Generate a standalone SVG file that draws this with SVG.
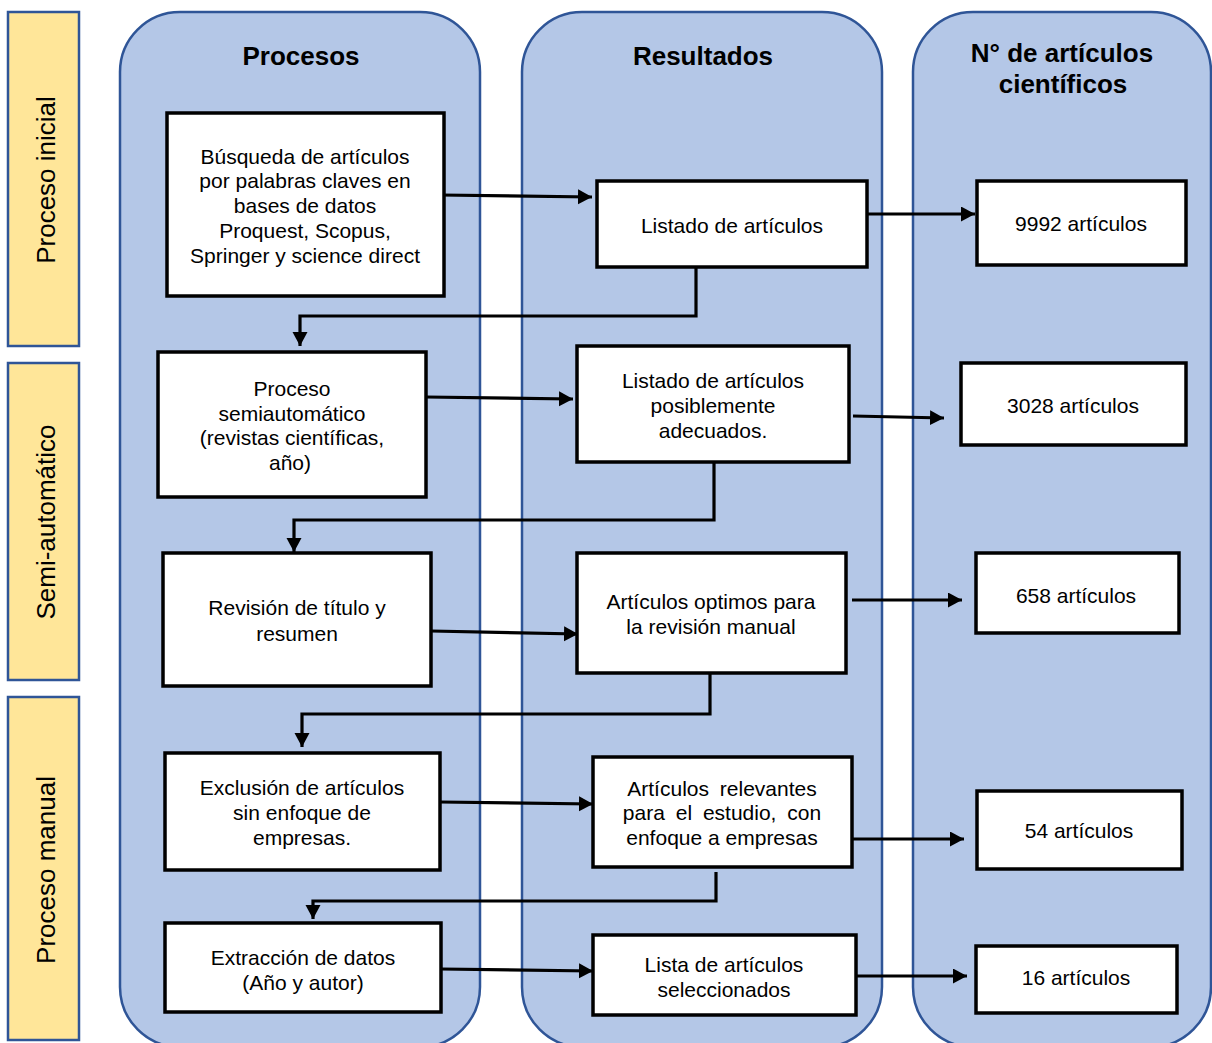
<svg xmlns="http://www.w3.org/2000/svg" width="1212" height="1043" viewBox="0 0 1212 1043">
<style>
.side{fill:#FFE699;stroke:#2F5597;stroke-width:2.5}
.col{fill:#B4C7E7;stroke:#2F5597;stroke-width:2.5}
.box{fill:#FFFFFF;stroke:#000000;stroke-width:3.5}
.t{font-family:"Liberation Sans",Arial,sans-serif;font-size:21px;fill:#000;text-anchor:middle}
.st{font-family:"Liberation Sans",Arial,sans-serif;font-size:26px;fill:#000;text-anchor:middle}
.h{font-family:"Liberation Sans",Arial,sans-serif;font-size:26px;font-weight:bold;fill:#000;text-anchor:middle}
.c{fill:none;stroke:#000;stroke-width:3.2;marker-end:url(#ah)}
</style>
<defs>
<marker id="ah" markerUnits="userSpaceOnUse" markerWidth="16" markerHeight="16" refX="14" refY="7.5" orient="auto">
<path d="M0,0 L14,7.5 L0,15 Z" fill="#000"/>
</marker>
</defs>
<g id="sides">
<g id="side-inicial"><rect class="side" x="8" y="12" width="71" height="334"/><text class="st" transform="translate(55,180) rotate(-90)">Proceso inicial</text></g>
<g id="side-semi"><rect class="side" x="8" y="363" width="71" height="317"/><text class="st" transform="translate(55,522) rotate(-90)">Semi-automático</text></g>
<g id="side-manual"><rect class="side" x="8" y="697" width="71" height="343"/><text class="st" transform="translate(55,870) rotate(-90)">Proceso manual</text></g>
</g>
<g id="columns">
<g id="col-procesos"><rect class="col" x="120" y="12" width="360" height="1035" rx="60" ry="60"/><text class="h" x="301" y="65">Procesos</text></g>
<g id="col-resultados"><rect class="col" x="522" y="12" width="360" height="1035" rx="60" ry="60"/><text class="h" x="703" y="65">Resultados</text></g>
<g id="col-numero"><rect class="col" x="913" y="12" width="298" height="1035" rx="60" ry="60"/><text class="h" x="1062" y="62">N° de artículos</text><text class="h" x="1063" y="93">científicos</text></g>
</g>
<g id="connectors">
<path class="c" d="M440,195 L592,197"/>
<path class="c" d="M867,214 L975,214"/>
<path class="c" d="M696,267 L696,316 L300,316 L300,346"/>
<path class="c" d="M426,397 L573,399"/>
<path class="c" d="M853,416 L944,418"/>
<path class="c" d="M714,462 L714,520 L294,520 L294,552"/>
<path class="c" d="M431,631 L578,634"/>
<path class="c" d="M852,600 L962,600"/>
<path class="c" d="M710,673 L710,714 L302,714 L302,747"/>
<path class="c" d="M440,802 L593,804"/>
<path class="c" d="M852,839 L964,839"/>
<path class="c" d="M716,872 L716,901 L313,901 L313,919"/>
<path class="c" d="M441,969 L593,971"/>
<path class="c" d="M856,976 L967,976"/>
</g>
<g id="n-busqueda"><rect class="box" x="167" y="113" width="277" height="183"/>
<text class="t" x="305" y="164">Búsqueda de artículos</text>
<text class="t" x="305" y="188">por palabras claves en</text>
<text class="t" x="305" y="213">bases de datos</text>
<text class="t" x="305" y="238">Proquest, Scopus,</text>
<text class="t" x="305" y="263">Springer y science direct</text></g>
<g id="n-semi"><rect class="box" x="158" y="352" width="268" height="145"/>
<text class="t" x="292" y="396">Proceso</text>
<text class="t" x="292" y="421">semiautomático</text>
<text class="t" x="292" y="445">(revistas científicas,</text>
<text class="t" x="290" y="470">año)</text></g>
<g id="n-revision"><rect class="box" x="163" y="553" width="268" height="133"/>
<text class="t" x="297" y="615">Revisión de título y</text>
<text class="t" x="297" y="641">resumen</text></g>
<g id="n-exclusion"><rect class="box" x="165" y="753" width="275" height="117"/>
<text class="t" x="302" y="795">Exclusión de artículos</text>
<text class="t" x="302" y="820">sin enfoque de</text>
<text class="t" x="302" y="845">empresas.</text></g>
<g id="n-extraccion"><rect class="box" x="165" y="923" width="276" height="89"/>
<text class="t" x="303" y="965">Extracción de datos</text>
<text class="t" x="303" y="990">(Año y autor)</text></g>
<g id="r-listado"><rect class="box" x="597" y="181" width="270" height="86"/>
<text class="t" x="732" y="233">Listado de artículos</text></g>
<g id="r-posible"><rect class="box" x="577" y="346" width="272" height="116"/>
<text class="t" x="713" y="388">Listado de artículos</text>
<text class="t" x="713" y="413">posiblemente</text>
<text class="t" x="713" y="438">adecuados.</text></g>
<g id="r-optimos"><rect class="box" x="577" y="553" width="269" height="120"/>
<text class="t" x="711" y="609">Artículos optimos para</text>
<text class="t" x="711" y="634">la revisión manual</text></g>
<g id="r-relevantes"><rect class="box" x="593" y="757" width="259" height="110"/>
<text class="t" x="722" y="796" word-spacing="5">Artículos relevantes</text>
<text class="t" x="722" y="820" word-spacing="5">para el estudio, con</text>
<text class="t" x="722" y="845">enfoque a empresas</text></g>
<g id="r-lista"><rect class="box" x="593" y="935" width="263" height="80"/>
<text class="t" x="724" y="972">Lista de artículos</text>
<text class="t" x="724" y="997">seleccionados</text></g>
<g id="k-9992"><rect class="box" x="977" y="181" width="209" height="84"/><text class="t" x="1081" y="231">9992 artículos</text></g>
<g id="k-3028"><rect class="box" x="961" y="363" width="225" height="82"/><text class="t" x="1073" y="413">3028 artículos</text></g>
<g id="k-658"><rect class="box" x="976" y="553" width="203" height="80"/><text class="t" x="1076" y="603">658 artículos</text></g>
<g id="k-54"><rect class="box" x="977" y="791" width="205" height="78"/><text class="t" x="1079" y="838">54 artículos</text></g>
<g id="k-16"><rect class="box" x="976" y="946" width="201" height="67"/><text class="t" x="1076" y="985">16 artículos</text></g>
</svg>
